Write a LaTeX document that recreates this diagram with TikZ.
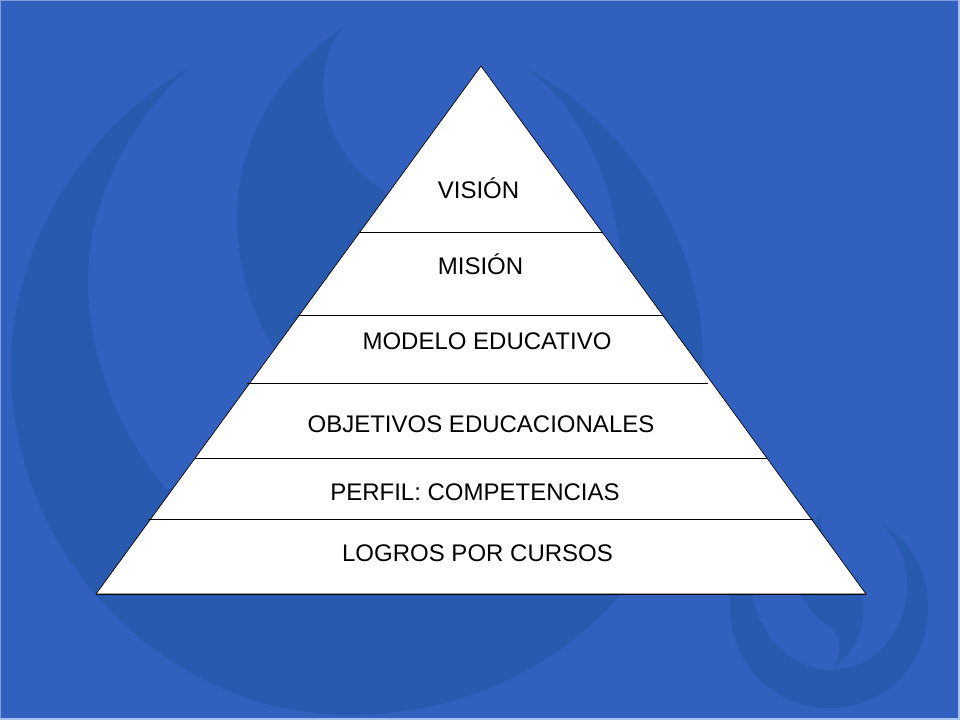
\documentclass[tikz,border=0pt]{standalone}
\usepackage{fontspec}
\setmainfont{Liberation Sans}
\definecolor{slideblue}{HTML}{3260BF}
\definecolor{swooshblue}{HTML}{285AB0}
\definecolor{edgeblue}{HTML}{7F9FDC}
\definecolor{edgepale}{HTML}{A9C3EE}
\tikzset{
  swoosh/.style={fill=swooshblue,draw=none},
  level/.style={inner sep=0pt,anchor=base,text=black,font=\fontsize{24}{28}\selectfont},
  rule/.style={draw=black,line width=0.9pt}
}
\begin{document}
\begin{tikzpicture}[x=1pt,y=-1pt]
  \useasboundingbox (0,0) rectangle (960,720);
  \fill[edgepale] (0,0) rectangle (960,720);
  \fill[edgeblue] (0,0) rectangle (958,718);
  \fill[slideblue] (1,1) rectangle (958,718);
  \begin{scope}
    \fill[swoosh] (190,67) .. controls (80,130) and (10,250) .. (11,370)
      .. controls (12,560) and (170,715) .. (350,715)
      .. controls (455,715) and (555,672) .. (625,590)
      -- (300,450) -- (167,490)
      .. controls (115,430) and (88,350) .. (88,280)
      .. controls (88,200) and (130,120) .. (190,67) -- cycle;
    \fill[swoosh] (343,27) .. controls (280,70) and (237,140) .. (237,217)
      .. controls (237,265) and (250,310) .. (273,347)
      -- (480,300) -- (383,190)
      .. controls (350,170) and (323,130) .. (323,85)
      .. controls (323,65) and (330,45) .. (343,27) -- cycle;
    \fill[swoosh] (525,68) .. controls (620,115) and (703,235) .. (703,360)
      -- (701,367) -- (650,360) -- (620,255)
      .. controls (615,180) and (575,100) .. (525,68) -- cycle;
    \fill[swoosh] (883,525) .. controls (915,545) and (928,575) .. (928,607)
      .. controls (928,665) and (885,708) .. (829,708)
      .. controls (775,708) and (730,665) .. (730,607)
      .. controls (730,590) and (733,575) .. (740,560)
      -- (752,590)
      .. controls (755,630) and (790,670) .. (830,670)
      .. controls (875,670) and (907,630) .. (907,587)
      .. controls (907,562) and (899,542) .. (883,525) -- cycle;
    \fill[swoosh] (822,513) .. controls (812,540) and (850,560) .. (863,600)
      .. controls (866,630) and (855,652) .. (835,666)
      .. controls (842,645) and (840,635) .. (830,627)
      .. controls (815,617) and (805,605) .. (800,590)
      -- (805,530) -- cycle;
  \end{scope}
  \coordinate (apex) at (481,66);
  \coordinate (baseL) at (96,594);
  \coordinate (baseR) at (866,594);
  \coordinate (a1) at (359,232);
  \coordinate (a2) at (603,232);
  \coordinate (b1) at (298,315);
  \coordinate (b2) at (663,315);
  \coordinate (c1) at (247,383);
  \coordinate (c2) at (708,383);
  \coordinate (d1) at (195,458);
  \coordinate (d2) at (767,458);
  \coordinate (e1) at (148,519);
  \coordinate (e2) at (813,519);
  \draw[fill=white,draw=black,line width=0.7pt] (apex) -- (baseR) -- (baseL) -- cycle;
  \draw[rule] (a1) -- (a2);
  \draw[rule] (b1) -- (b2);
  \draw[rule] (c1) -- (c2);
  \draw[rule] (d1) -- (d2);
  \draw[rule] (e1) -- (e2);
  \draw[rule] (baseL) -- (baseR);
  \path
    (478.5,198.5) node[level] (vision){VISIÓN}
    (480.5,274) node[level] (mission){MISIÓN}
    (487,349) node[level] (model){MODELO EDUCATIVO}
    (481,432) node[level] (goals){OBJETIVOS EDUCACIONALES}
    (475,500) node[level] (profile){PERFIL: COMPETENCIAS}
    (477.5,561) node[level] (results){LOGROS POR CURSOS};
\end{tikzpicture}
\end{document}
